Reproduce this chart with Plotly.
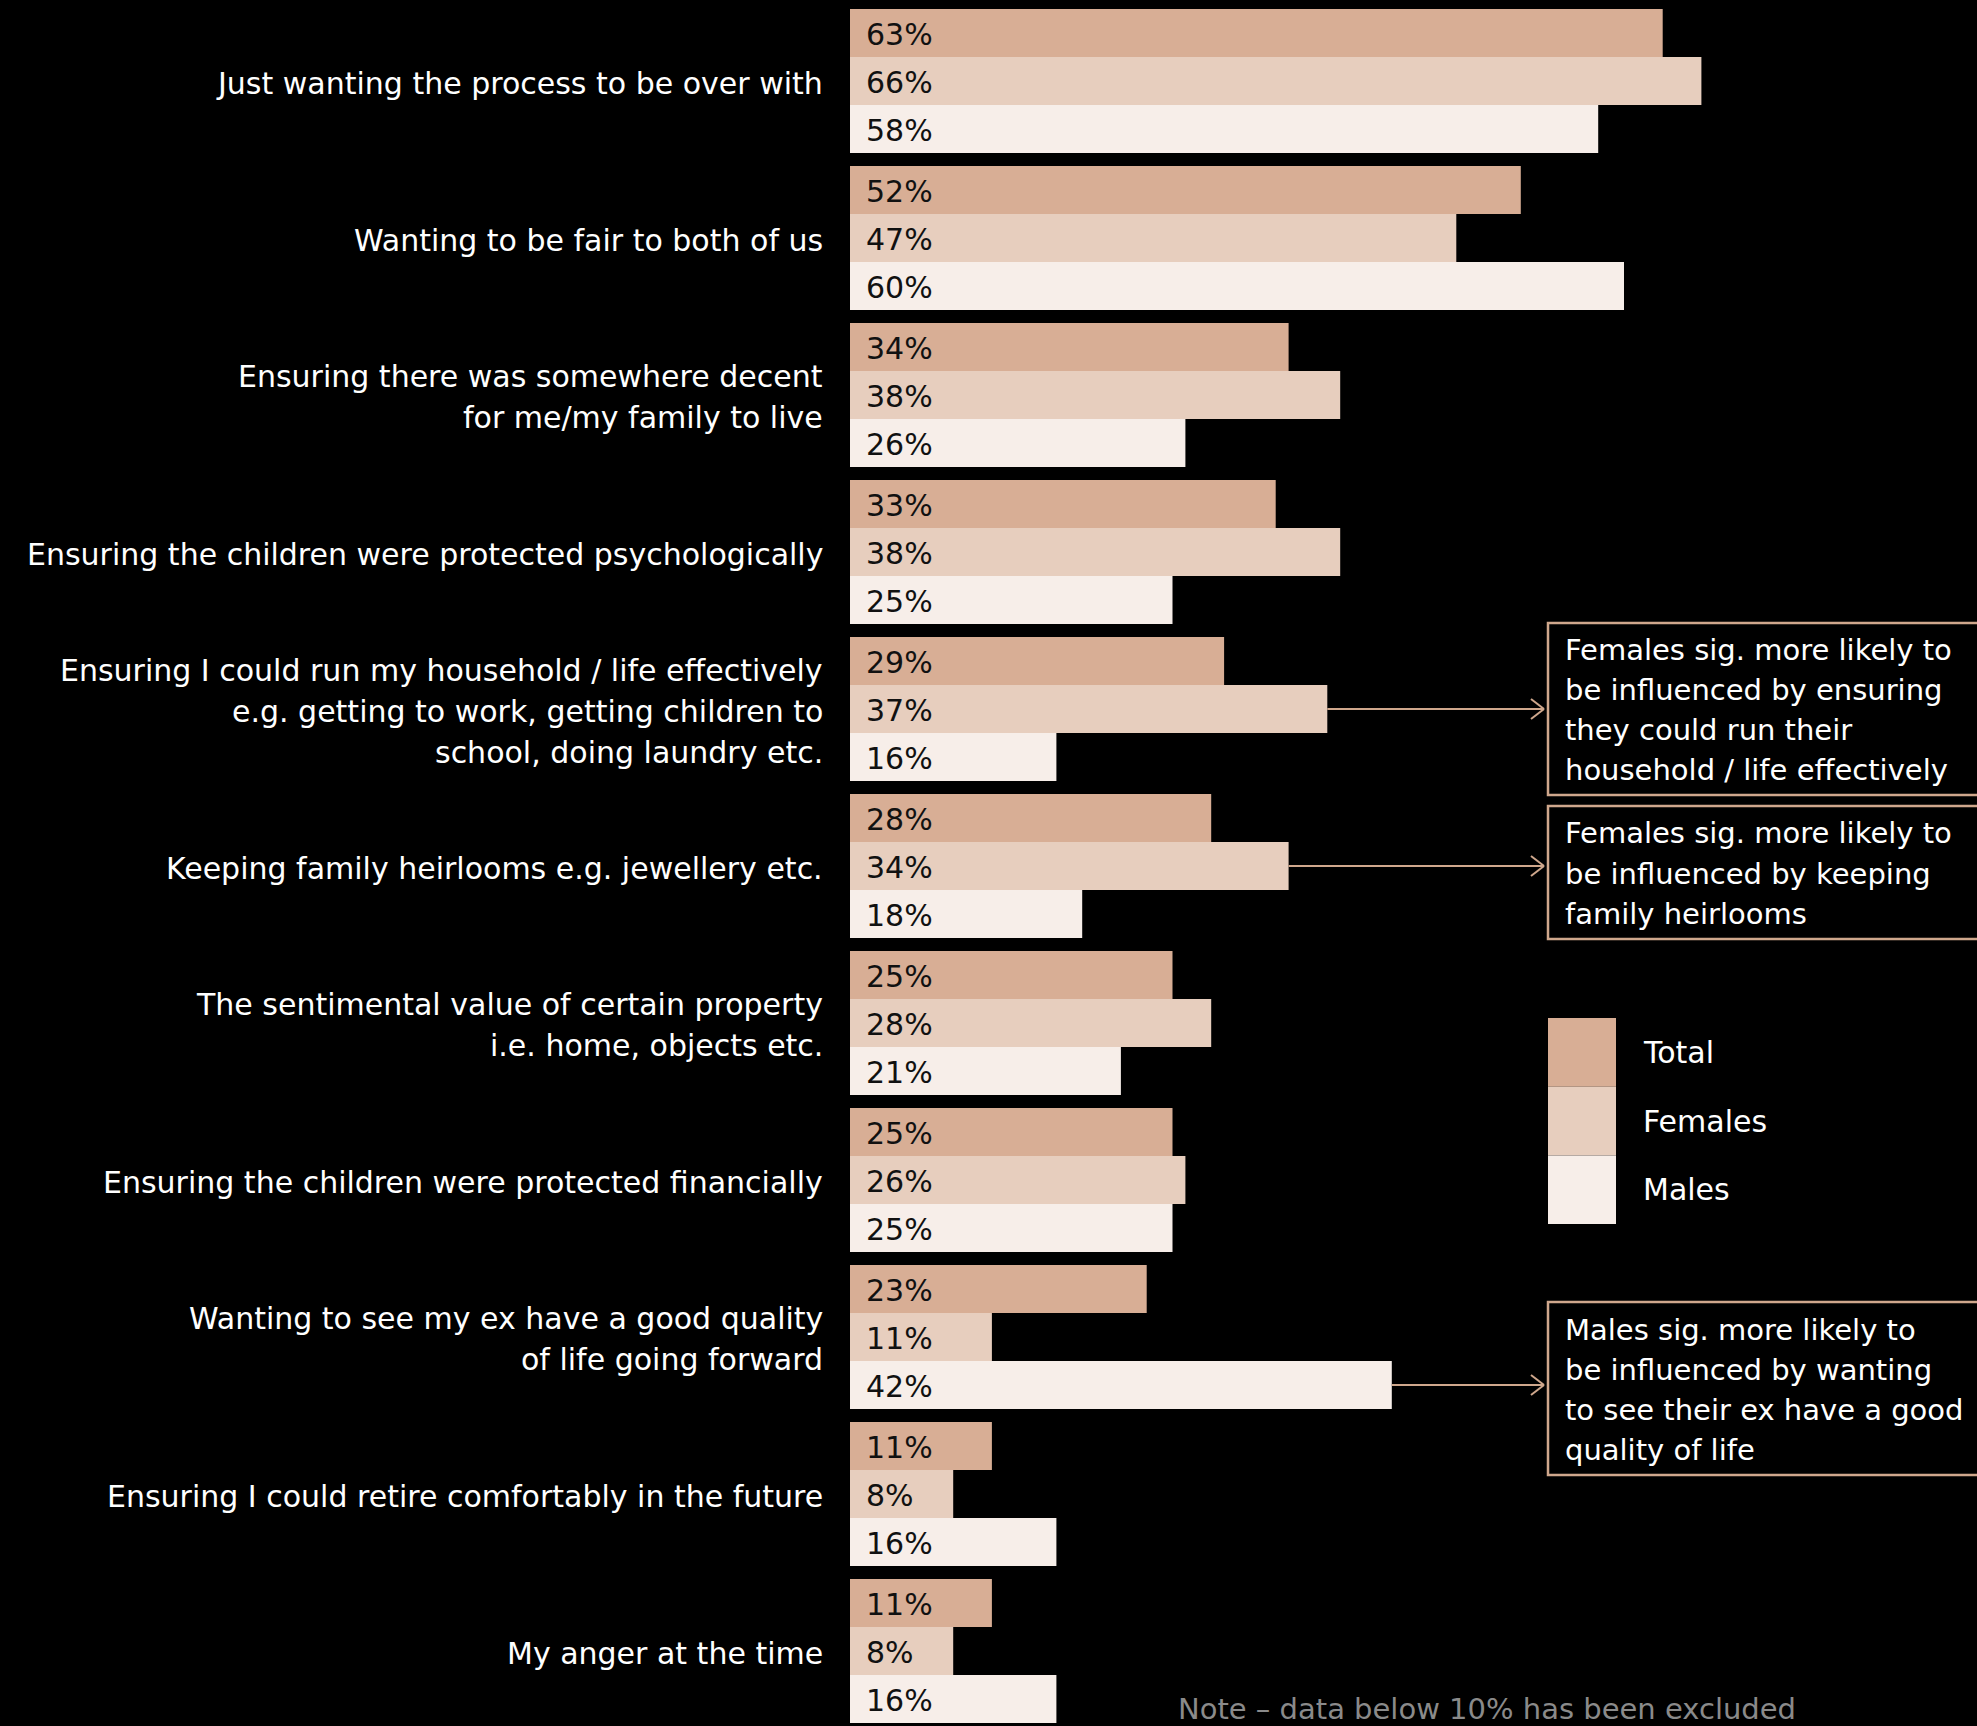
import plotly.graph_objects as go

# ---- data -------------------------------------------------------------
categories = [
    "Just wanting the process to be over with",
    "Wanting to be fair to both of us",
    "Ensuring there was somewhere decent<br>for me/my family to live",
    "Ensuring the children were protected psychologically",
    "Ensuring I could run my household / life effectively<br>e.g. getting to work, getting children to<br>school, doing laundry etc.",
    "Keeping family heirlooms e.g. jewellery etc.",
    "The sentimental value of certain property<br>i.e. home, objects etc.",
    "Ensuring the children were protected financially",
    "Wanting to see my ex have a good quality<br>of life going forward",
    "Ensuring I could retire comfortably in the future",
    "My anger at the time",
]
total = [63, 52, 34, 33, 29, 28, 25, 25, 23, 11, 11]
females = [66, 47, 38, 38, 37, 34, 28, 26, 11, 8, 8]
males = [58, 60, 26, 25, 16, 18, 21, 25, 42, 16, 16]
series_names = ["Total", "Females", "Males"]

callouts = [
    # (category index, series index, text lines)
    (4, 1, ["Females sig. more likely to", "be influenced by ensuring",
            "they could run their", "household / life effectively"]),
    (5, 1, ["Females sig. more likely to", "be influenced by keeping",
            "family heirlooms"]),
    (8, 2, ["Males sig. more likely to", "be influenced by wanting",
            "to see their ex have a good", "quality of life"]),
]
note_text = "Note \u2013 data below 10% has been excluded"

# ---- styling ----------------------------------------------------------
W, H = 1977, 1726
FONT = "DejaVu Sans"
COLORS = ["#D8AE95", "#E7CEBE", "#F7EEE9"]
ACCENT = "#CFA78C"
X_ZERO = 850          # pixel where the value axis starts
PX_PER_PCT = 12.9     # horizontal scale
FIRST_CENTER = 81     # pixel centre of the first group
SLOT = 157            # pixel height of one category slot
BAR_H = 48            # pixel height of a single bar
BOX_LEFT = 1548       # callout boxes left edge (px)
LABEL_PITCH = 41      # line pitch of the category labels (px)
N = len(categories)

x_max = (W - X_ZERO) / PX_PER_PCT
y_top = -FIRST_CENTER / SLOT
y_bot = (H - FIRST_CENTER) / SLOT


def paper_x(px):
    return (px - X_ZERO) / (W - X_ZERO)


def paper_y(py):
    return 1 - py / H


def bar_center_px(i, s):
    return FIRST_CENTER + SLOT * i + (s - 1) * BAR_H


fig = go.Figure()
for name, vals, col in zip(series_names, [total, females, males], COLORS):
    fig.add_trace(go.Bar(
        y=categories, x=vals, name=name, orientation="h",
        marker=dict(color=col, line=dict(width=0)),
        hoverinfo="x+y+name",
    ))

annotations = []
shapes = []

# category labels, one annotation per line for an even line pitch
for i, cat in enumerate(categories):
    lines = cat.split("<br>")
    n = len(lines)
    for k, ln in enumerate(lines):
        offset = (k - (n - 1) / 2) * LABEL_PITCH + 2
        annotations.append(dict(
            x=0, y=i, xref="paper", yref="y", xanchor="right",
            yanchor="middle", xshift=-25, yshift=-offset, text=ln,
            showarrow=False,
            font=dict(family=FONT, size=30, color="#FFFFFF"),
        ))

# value labels inside the bars
for s, vals in enumerate([total, females, males]):
    for i, v in enumerate(vals):
        annotations.append(dict(
            x=0, y=i, xref="x", yref="y", xanchor="left", yanchor="middle",
            xshift=14, yshift=-(s - 1) * BAR_H - 1, text=f"{v}%",
            showarrow=False,
            font=dict(family=FONT, size=30, color="#111111"),
        ))

# callout boxes with arrows
box_specs = [(623, 795), (806, 939), (1302, 1475)]
for (ci, si, lines), (top, bottom) in zip(callouts, box_specs):
    vals = [total, females, males][si]
    yc = bar_center_px(ci, si)
    shapes.append(dict(
        type="rect", xref="paper", yref="paper",
        x0=paper_x(BOX_LEFT), x1=paper_x(W + 40),
        y0=paper_y(top), y1=paper_y(bottom),
        line=dict(color=ACCENT, width=2.5), fillcolor="rgba(0,0,0,0)",
        layer="above",
    ))
    tip = BOX_LEFT - 4
    shapes.append(dict(
        type="line", xref="x", yref="paper",
        x0=vals[ci], x1=(tip - X_ZERO) / PX_PER_PCT,
        y0=paper_y(yc), y1=paper_y(yc),
        line=dict(color=ACCENT, width=2),
    ))
    for dy in (-10, 10):
        shapes.append(dict(
            type="line", xref="paper", yref="paper",
            x0=paper_x(tip - 13), x1=paper_x(tip),
            y0=paper_y(yc + dy), y1=paper_y(yc),
            line=dict(color=ACCENT, width=2),
        ))
    n = len(lines)
    mid = (top + bottom) / 2 + 1
    for k, ln in enumerate(lines):
        annotations.append(dict(
            x=paper_x(1563), y=paper_y(mid + (k - (n - 1) / 2) * 40),
            xref="paper", yref="paper", xanchor="left", yanchor="middle",
            text=ln, showarrow=False,
            font=dict(family=FONT, size=29, color="#FFFFFF"),
        ))

# legend swatches
sw_top, sw_h = 1018, 68.7
for k, (name, col) in enumerate(zip(series_names, COLORS)):
    y0 = sw_top + k * sw_h
    shapes.append(dict(
        type="rect", xref="paper", yref="paper",
        x0=paper_x(1548), x1=paper_x(1616),
        y0=paper_y(y0), y1=paper_y(y0 + sw_h),
        line=dict(width=0), fillcolor=col,
    ))
    annotations.append(dict(
        x=paper_x(1641), y=paper_y(y0 + sw_h / 2),
        xref="paper", yref="paper", xanchor="left", yanchor="middle",
        text=name, showarrow=False,
        font=dict(family=FONT, size=30, color="#FFFFFF"),
    ))

# footnote, kept just inside the bottom edge
annotations.append(dict(
    x=paper_x(1176), y=0, xref="paper", yref="paper",
    xanchor="left", yanchor="bottom", yshift=-2, text=note_text,
    showarrow=False,
    font=dict(family=FONT, size=29, color="#8A8A8A"),
))

fig.update_layout(
    width=W, height=H,
    margin=dict(l=X_ZERO, r=0, t=0, b=0, pad=0, autoexpand=False),
    paper_bgcolor="#000000", plot_bgcolor="#000000",
    barmode="group", bargap=(SLOT - 3 * BAR_H) / SLOT, bargroupgap=0,
    showlegend=False,
    xaxis=dict(range=[0, x_max], visible=False),
    yaxis=dict(
        type="category", range=[y_bot, y_top], showgrid=False,
        zeroline=False, showline=False, ticks="", showticklabels=False,
    ),
    annotations=annotations, shapes=shapes,
)

fig.write_html("out.html")
